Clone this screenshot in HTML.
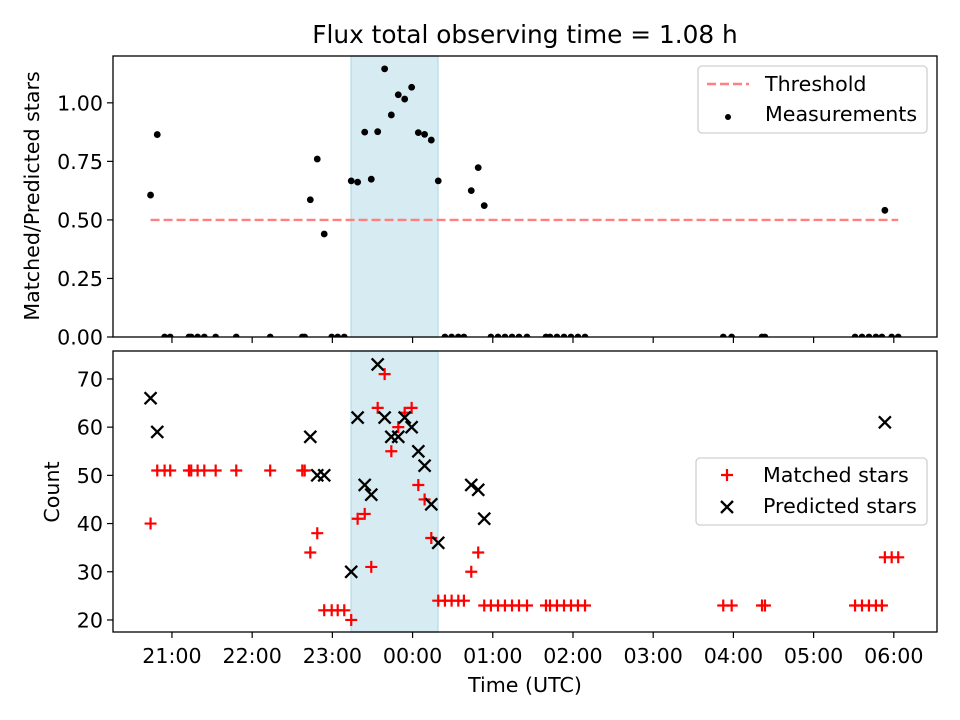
<!DOCTYPE html>
<html><head><meta charset="utf-8">
<style>
html,body{margin:0;padding:0;background:#fff;}
svg{display:block;font-family:"DejaVu Sans","Liberation Sans",sans-serif;}
</style></head>
<body>
<svg id="chart" width="960" height="720" viewBox="0 0 960 720" xmlns="http://www.w3.org/2000/svg">
<rect width="960" height="720" fill="#fff"/>
<text x="525" y="43" font-size="24.8" text-anchor="middle" fill="#000">Flux total observing time = 1.08 h</text>
<g id="top"></g>
<g id="bottom"></g>
<text transform="translate(39,196) rotate(-90)" font-size="20.6" text-anchor="middle">Matched/Predicted stars</text>
<text transform="translate(59,492) rotate(-90)" font-size="20.6" text-anchor="middle">Count</text>
<text x="525" y="692" font-size="20.6" text-anchor="middle">Time (UTC)</text>
</svg>
<script>
// minutes after 20:00 UTC
const times = [44,49,54.5,58.7,72.7,74.4,79.2,84.2,92.7,108.1,133.5,157.5,159.3,163.5,168.7,173.9,179.5,184,188.9,194.1,198.9,204.2,209.1,213.9,219.1,224.1,229.3,234.1,239.3,244.3,249,254,259.2,264.2,269.2,274.2,278.4,283.9,289.1,293.6,298.6,303.9,309.1,314.4,319.6,325.6,339.8,342.8,348,353.3,358.5,363.7,369,472.4,478.7,501.4,503.6,571,576.2,581.4,586.6,591.1,593.3,598.4,603.3];
const matched = [40,51,51,51,51,51,51,51,51,51,51,51,51,34,38,22,22,22,22,20,41,42,31,64,71,55,60,63,64,48,45,37,24,24,24,24,24,30,34,23,23,23,23,23,23,23,23,23,23,23,23,23,23,23,23,23,23,23,23,23,23,23,33,33,33];
const predicted = [66,59,0,0,0,0,0,0,0,0,0,0,0,58,50,50,0,0,0,30,62,48,46,73,62,58,58,62,60,55,52,44,36,0,0,0,0,48,47,41,0,0,0,0,0,0,0,0,0,0,0,0,0,0,0,0,0,0,0,0,0,0,61,0,0];
const threshold = 0.5;
const obsWindow = [194, 259];
const hourTicks = [60,120,180,240,300,360,420,480,540,600];
const hourLabels = ["21:00","22:00","23:00","00:00","01:00","02:00","03:00","04:00","05:00","06:00"];
const ratioTicks = [0,0.25,0.5,0.75,1.0];
const ratioLabels = ["0.00","0.25","0.50","0.75","1.00"];
const countTicks = [20,30,40,50,60,70];

const NS = "http://www.w3.org/2000/svg";
const L = 113, R = 937;
const X0 = 15.9, X1 = 632.3;
const FS = 20.6;
const x = t => L + (t - X0) / (X1 - X0) * (R - L);
const topY = {t:56, b:337, lo:0, hi:1.2};
const botY = {t:351, b:632, lo:17.5, hi:75.8};
const yT = v => topY.b - (v - topY.lo) / (topY.hi - topY.lo) * (topY.b - topY.t);
const yB = v => botY.b - (v - botY.lo) / (botY.hi - botY.lo) * (botY.b - botY.t);

function mk(parent, tag, attrs, text) {
  const e = document.createElementNS(NS, tag);
  for (const k in attrs) e.setAttribute(k, attrs[k]);
  if (text !== undefined) e.textContent = text;
  parent.appendChild(e);
  return e;
}

function panel(g, Y, yTicks, yLabels, showX, clipId) {
  const defs = mk(g, "defs", {});
  const cp = mk(defs, "clipPath", {id: clipId});
  mk(cp, "rect", {x: L, y: Y.t, width: R - L, height: Y.b - Y.t});
  const span = mk(g, "rect", {x: x(obsWindow[0]), y: Y.t, width: x(obsWindow[1]) - x(obsWindow[0]), height: Y.b - Y.t, fill: "#d6ebf2", stroke: "#bfdfe9", "stroke-width": 1.5});
  
  
  const ylab = Y === topY ? yT : yB;
  yTicks.forEach((v, i) => {
    const yy = ylab(v);
    const tk = mk(g, "line", {x1: L - 6, x2: L, y1: yy, y2: yy, stroke: "#000", "stroke-width": 1.2});
    
    
    const tl = mk(g, "text", {x: L - 10, y: yy + 7.5, "font-size": FS, "text-anchor": "end"}, yLabels[i]);
    
    
  });
  hourTicks.forEach((t, i) => {
    const xx = x(t);
    const tk = mk(g, "line", {x1: xx, x2: xx, y1: Y.b, y2: Y.b + 6, stroke: "#000", "stroke-width": 1.2});
    
    
    if (showX) {
      const tl = mk(g, "text", {x: xx, y: Y.b + 31, "font-size": FS, "text-anchor": "middle"}, hourLabels[i]);
      
      
    }
  });
  const plot = mk(g, "g", {"clip-path": "url(#" + clipId + ")"});
  return plot;
}

// top panel
const gt = document.getElementById("top");
const pt = panel(gt, topY, ratioTicks, ratioLabels, false, "clipTop");
const th = mk(pt, "line", {x1: x(times[0]), x2: x(times[times.length - 1]), y1: yT(threshold), y2: yT(threshold), stroke: "#ff8080", "stroke-width": 2.4, "stroke-dasharray": "9,4"});


times.forEach((t, i) => {
  const r = predicted[i] > 0 ? matched[i] / predicted[i] : 0;
  const c = mk(pt, "circle", {cx: x(t), cy: yT(r), r: 3.4, fill: "#000"});
  
  
});
const fr1 = mk(gt, "rect", {x: L, y: topY.t, width: R - L, height: topY.b - topY.t, fill: "none", stroke: "#000", "stroke-width": 1.3});



// bottom panel
const gb = document.getElementById("bottom");
const pb = panel(gb, botY, countTicks, countTicks.map(String), true, "clipBot");
times.forEach((t, i) => {
  const xx = x(t), yy = yB(matched[i]);
  const p = mk(pb, "path", {d: `M${xx-6},${yy}H${xx+6}M${xx},${yy-6}V${yy+6}`, stroke: "#ff0000", "stroke-width": 2.2, fill: "none"});
  
  
});
times.forEach((t, i) => {
  const xx = x(t), yy = yB(predicted[i]);
  const p = mk(pb, "path", {d: `M${xx-6},${yy-6}L${xx+6},${yy+6}M${xx-6},${yy+6}L${xx+6},${yy-6}`, stroke: "#000", "stroke-width": 2.3, fill: "none"});
  
  
});
const fr2 = mk(gb, "rect", {x: L, y: botY.t, width: R - L, height: botY.b - botY.t, fill: "none", stroke: "#000", "stroke-width": 1.3});


</script>
<svg style="position:absolute;left:0;top:0" width="960" height="720" xmlns="http://www.w3.org/2000/svg">
  <g>
    <rect x="698" y="66" width="229" height="67" rx="4" fill="#fff" fill-opacity="0.8" stroke="#d0d0d0" stroke-width="1.3"/>
    <line x1="707" y1="84" x2="749" y2="84" stroke="#ff8080" stroke-width="2.4" stroke-dasharray="9,4"/>
    <text x="765" y="91" font-size="20.6" font-family="DejaVu Sans, sans-serif">Threshold</text>
    <circle cx="728" cy="117" r="3" fill="#000"/>
    <text x="765" y="121" font-size="20.6" font-family="DejaVu Sans, sans-serif">Measurements</text>
  </g>
  <g>
    <rect x="696" y="458" width="231" height="67" rx="4" fill="#fff" fill-opacity="0.8" stroke="#d0d0d0" stroke-width="1.3"/>
    <path d="M721,475H733M727,469V481" stroke="#ff0000" stroke-width="2.2"/>
    <text x="763" y="482" font-size="20.6" font-family="DejaVu Sans, sans-serif">Matched stars</text>
    <path d="M721,501L733,513M721,513L733,501" stroke="#000" stroke-width="2.3"/>
    <text x="763" y="513" font-size="20.6" font-family="DejaVu Sans, sans-serif">Predicted stars</text>
  </g>
</svg>
</body></html>
